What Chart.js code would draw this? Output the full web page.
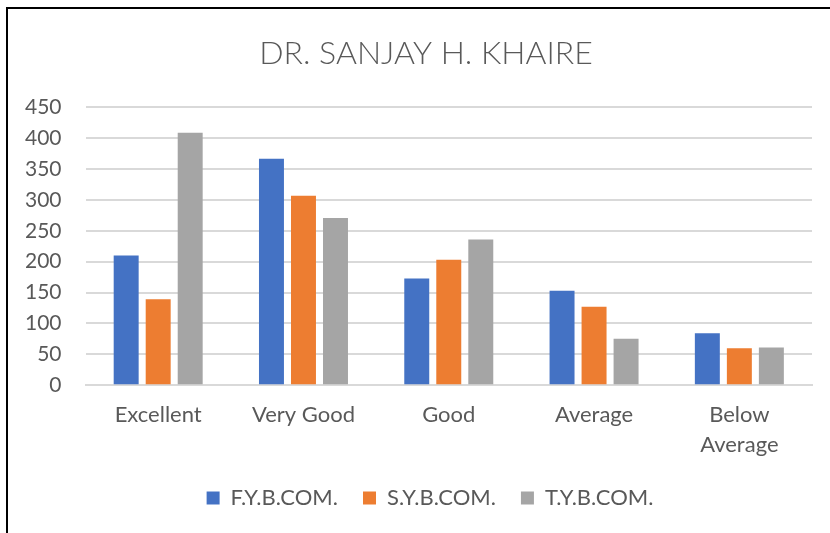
<!DOCTYPE html>
<html><head><meta charset="utf-8">
<script src="https://cdn.jsdelivr.net/npm/chart.js@4/dist/chart.umd.min.js"></script>
<style>
html,body{margin:0;padding:0;background:#fff;overflow:hidden;}
#wrap{position:relative;width:830px;height:533px;}
#frame{position:absolute;left:6px;top:7px;width:840px;height:560px;border:2px solid #000;box-sizing:border-box;pointer-events:none;}
</style>
</head><body>
<div id="wrap"><canvas id="c" width="830" height="533"></canvas><div id="frame"></div></div>
<script>
const categories = ["Excellent", "Very Good", "Good", "Average", ["Below", "Average"]];
const seriesNames = ["F.Y.B.COM.", "S.Y.B.COM.", "T.Y.B.COM."];
const fyValues = [210, 367, 173, 153, 84];
const syValues = [139, 307, 203, 127, 60];
const tyValues = [409, 271, 236, 75, 61];
const yTicks = [0, 50, 100, 150, 200, 250, 300, 350, 400, 450];
const colors = ["#4472C4", "#ED7D31", "#A5A5A5"];

const fontFam = "Lato, 'Open Sans', sans-serif";
const centerBlocks = {
  id: 'centerBlocks',
  afterLayout(chart) {
    const t = chart.titleBlock;
    if (t) { t.left = 40; t.right = 812; t.width = t.right - t.left; }
    const l = chart.legend;
    if (l) { l.left = 48; l.right = 812; l.width = l.right - l.left; }
  }
};
new Chart(document.getElementById('c'), {
  type: 'bar',
  data: {
    labels: categories,
    datasets: [fyValues, syValues, tyValues].map((d, i) => ({
      label: seriesNames[i], data: d, backgroundColor: colors[i],
      categoryPercentage: 0.661, barPercentage: 0.78
    }))
  },
  plugins: [centerBlocks],
  options: {
    responsive: false, animation: false,
    layout: { padding: { left: 1, right: 18, top: 20, bottom: 14 } },
    plugins: {
      title: { display: true, text: "DR. SANJAY H. KHAIRE", color: "#595959",
        font: { family: fontFam, size: 32, weight: 300 }, padding: { top: 14, bottom: 35 } },
      legend: { position: 'bottom',
        labels: { color: "#595959", font: { family: fontFam, size: 22 }, boxWidth: 13, boxHeight: 13, padding: 25 } },
      tooltip: { enabled: false }
    },
    scales: {
      x: { grid: { display: false }, border: { color: "#D9D9D9", width: 2 },
        afterFit: s => { s.height -= 5; },
        ticks: { color: "#595959", font: { family: fontFam, size: 22, lineHeight: 1.36 }, padding: 7, maxRotation: 0 } },
      y: { min: 0, max: 450, afterBuildTicks: s => { s.ticks = yTicks.map(v => ({ value: v })); },
        grid: { color: "#D9D9D9", lineWidth: 2, drawTicks: false }, border: { display: false },
        ticks: { color: "#595959", font: { family: fontFam, size: 21 }, padding: 24 } }
    }
  }
});
</script>
</body></html>
